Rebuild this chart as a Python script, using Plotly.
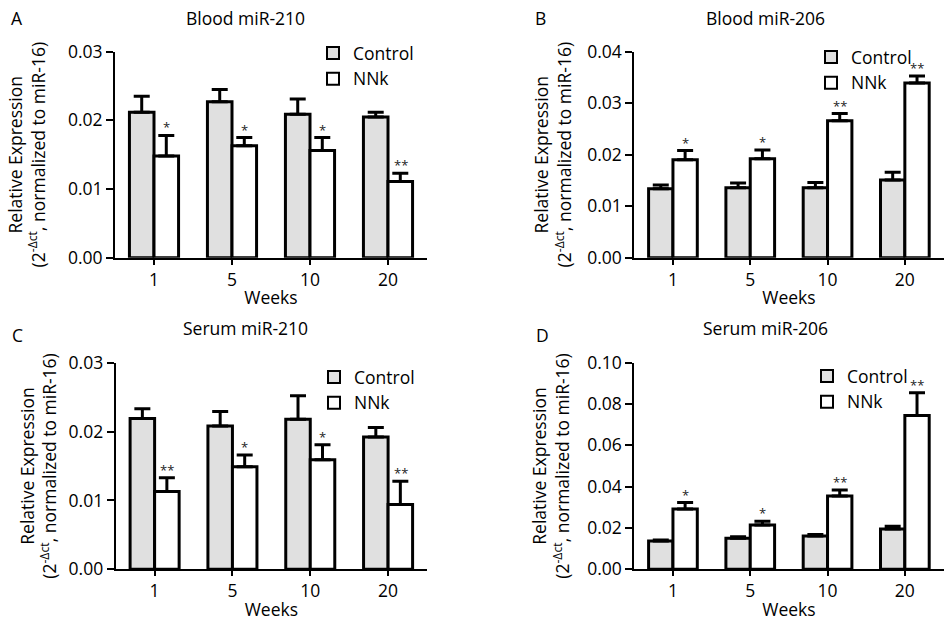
import plotly.graph_objects as go

weeks = ["1", "5", "10", "20"]

# Panel A: Blood miR-210
a_ctrl = [0.0212, 0.0227, 0.0209, 0.0205]
a_ctrl_sem = [0.0023, 0.0018, 0.0022, 0.0007]
a_nnk = [0.0148, 0.0163, 0.0156, 0.0111]
a_nnk_sem = [0.0030, 0.0012, 0.0019, 0.0012]
a_sig = ["*", "*", "*", "**"]

# Panel B: Blood miR-206
b_ctrl = [0.0134, 0.0136, 0.0136, 0.0151]
b_ctrl_sem = [0.0007, 0.0009, 0.0010, 0.0015]
b_nnk = [0.0190, 0.0192, 0.0266, 0.0339]
b_nnk_sem = [0.0018, 0.0017, 0.0014, 0.0014]
b_sig = ["*", "*", "**", "**"]

# Panel C: Serum miR-210
c_ctrl = [0.0219, 0.0208, 0.0218, 0.0192]
c_ctrl_sem = [0.0014, 0.0021, 0.0034, 0.0014]
c_nnk = [0.0113, 0.0149, 0.0159, 0.0094]
c_nnk_sem = [0.0020, 0.0017, 0.0022, 0.0034]
c_sig = ["**", "*", "*", "**"]

# Panel D: Serum miR-206
d_ctrl = [0.0137, 0.0150, 0.0161, 0.0195]
d_ctrl_sem = [0.0005, 0.0007, 0.0008, 0.0013]
d_nnk = [0.0292, 0.0215, 0.0355, 0.0744]
d_nnk_sem = [0.0031, 0.0018, 0.0029, 0.0110]
d_sig = ["*", "*", "**", "**"]

panel_letters = ["A", "B", "C", "D"]
panel_titles = ["Blood miR-210", "Blood miR-206", "Serum miR-210", "Serum miR-206"]
y_max = [0.03, 0.04, 0.03, 0.10]
y_dtick = [0.01, 0.01, 0.01, 0.02]

panels = [
    (a_ctrl, a_ctrl_sem, a_nnk, a_nnk_sem, a_sig),
    (b_ctrl, b_ctrl_sem, b_nnk, b_nnk_sem, b_sig),
    (c_ctrl, c_ctrl_sem, c_nnk, c_nnk_sem, c_sig),
    (d_ctrl, d_ctrl_sem, d_nnk, d_nnk_sem, d_sig),
]

W, H = 945, 621
FONT = "Open Sans"
FS = 17.5
CTRL_FILL = "#e0e0e0"

# plot-area pixel boxes (left, right, top, bottom)
boxes = [
    (115, 427, 51.7, 257.7),
    (634.3, 943.5, 51.7, 257.7),
    (115.7, 427, 362.7, 569.3),
    (634.3, 943.5, 362.7, 569.3),
]
ytitle_standoff = [18, 11, 7, 13]
legend_pos = [(313, 35), (811, 39), (314, 359), (807, 358)]
letter_pos = [(17, 18), (540, 18), (17, 335), (542, 335)]
title_pos = [(245, 18), (765, 18), (245, 328), (765, 328)]

fig = go.Figure()
annotations = []

for i, (ctrl, ctrl_sem, nnk, nnk_sem, sig) in enumerate(panels):
    n = "" if i == 0 else str(i + 1)
    xa, ya = "x" + n, "y" + n
    lg = "legend" + n
    fig.add_trace(go.Bar(
        x=weeks, y=ctrl, name="Control", xaxis=xa, yaxis=ya, legend=lg,
        marker=dict(color=CTRL_FILL, line=dict(color="black", width=3)),
        error_y=dict(type="data", symmetric=False, array=ctrl_sem,
                     arrayminus=[0] * len(ctrl), color="black", thickness=3, width=8),
    ))
    fig.add_trace(go.Bar(
        x=weeks, y=nnk, name="NNk", xaxis=xa, yaxis=ya, legend=lg,
        marker=dict(color="white", line=dict(color="black", width=3)),
        error_y=dict(type="data", symmetric=False, array=nnk_sem,
                     arrayminus=[0] * len(nnk), color="black", thickness=3, width=8),
    ))
    for k, (v, s, t) in enumerate(zip(nnk, nnk_sem, sig)):
        annotations.append(dict(
            x=k, y=v + s, xref=xa, yref=ya, text=t, showarrow=False,
            xshift=12.5, yshift=-3, xanchor="center", yanchor="bottom",
            font=dict(family=FONT, size=13, color="#222"),
        ))
    l, r, t_, b = boxes[i]
    fig.layout["xaxis" + n] = dict(
        domain=[l / W, r / W], anchor=ya, type="category", range=[-0.5, 3.5],
        automargin=False,
        showline=True, linecolor="black", linewidth=2, ticks="outside",
        ticklen=5, tickwidth=2, tickcolor="black", showgrid=False,
        tickfont=dict(family=FONT, size=FS, color="black"),
        title=dict(text="Weeks", font=dict(family=FONT, size=FS, color="black"), standoff=2),
    )
    fig.layout["yaxis" + n] = dict(
        domain=[1 - b / H, 1 - t_ / H], anchor=xa, range=[0, y_max[i]],
        automargin=False,
        dtick=y_dtick[i], tick0=0, tickformat=".2f",
        showline=True, linecolor="black", linewidth=2, ticks="outside",
        ticklen=7, tickwidth=2, tickcolor="black", showgrid=False, zeroline=False,
        tickfont=dict(family=FONT, size=FS, color="black"),
        title=dict(text="Relative Expression<br>(2<sup>-Δct</sup>, normalized to miR-16)",
                   font=dict(family=FONT, size=FS, color="black"),
                   standoff=ytitle_standoff[i]),
    )
    lx, ly = legend_pos[i]
    fig.layout[lg] = dict(
        x=lx / W, y=1 - ly / H, xanchor="left", yanchor="top",
        bgcolor="rgba(0,0,0,0)", font=dict(family=FONT, size=FS, color="black"),
        itemsizing="constant", tracegroupgap=0,
    )
    px_, py_ = letter_pos[i]
    annotations.append(dict(x=px_ / W, y=1 - py_ / H, xref="paper", yref="paper",
                            xanchor="center", yanchor="middle",
                            text=panel_letters[i], showarrow=False,
                            font=dict(family=FONT, size=FS, color="black")))
    tx, ty = title_pos[i]
    annotations.append(dict(x=tx / W, y=1 - ty / H, xref="paper", yref="paper",
                            xanchor="center", yanchor="middle",
                            text=panel_titles[i], showarrow=False,
                            font=dict(family=FONT, size=FS, color="black")))

fig.update_layout(
    width=W, height=H, margin=dict(l=0, r=0, t=0, b=0, autoexpand=False),
    paper_bgcolor="white", plot_bgcolor="white",
    barmode="group", bargap=0.37, bargroupgap=0,
    annotations=annotations,
    font=dict(family=FONT, size=FS, color="black"),
)

fig.write_html("out.html", config={"displayModeBar": False},
               post_script="document.body.style.margin='0px';")
